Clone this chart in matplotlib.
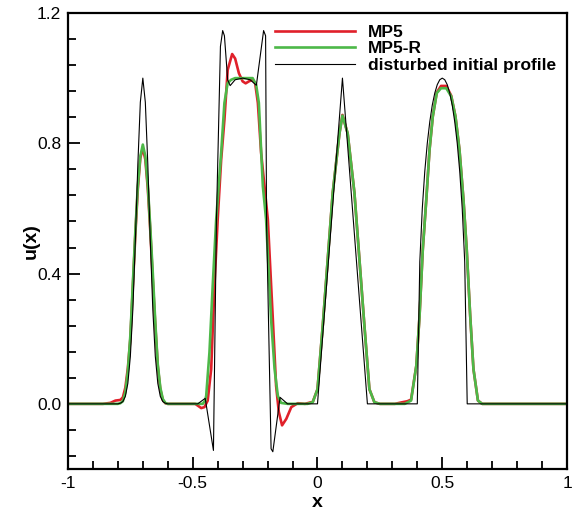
import matplotlib
matplotlib.use("Agg")
import matplotlib.pyplot as plt
from matplotlib.ticker import MultipleLocator

plt.rcParams['font.family'] = ['Liberation Sans', 'DejaVu Sans']
plt.rcParams['axes.unicode_minus'] = False

# disturbed initial profile
black_x = [-1.0, -0.80, -0.79, -0.78, -0.77, -0.76, -0.75, -0.74, -0.73, -0.72, -0.71, -0.70,
           -0.69, -0.68, -0.67, -0.66, -0.65, -0.64, -0.63, -0.62, -0.61, -0.60,
           -0.48, -0.45, -0.417, -0.405, -0.389, -0.38, -0.373, -0.36, -0.35, -0.33, -0.30,
           -0.27, -0.245, -0.216, -0.208, -0.204, -0.186, -0.179, -0.15, -0.12,
           0.0, 0.1, 0.2,
           0.40, 0.41, 0.42, 0.43, 0.44, 0.45, 0.46, 0.47, 0.48, 0.49, 0.50,
           0.51, 0.52, 0.53, 0.54, 0.55, 0.56, 0.57, 0.58, 0.59, 0.60, 1.0]
black_y = [0.0, 0.0, 0.002, 0.007, 0.023, 0.063, 0.146, 0.29, 0.50, 0.735, 0.926, 1.0,
           0.926, 0.735, 0.50, 0.29, 0.146, 0.063, 0.023, 0.007, 0.002, 0.0,
           0.0, 0.017, -0.143, 0.566, 1.097, 1.146, 1.13, 0.995, 0.977, 0.995, 1.0,
           0.995, 0.978, 1.146, 1.13, 0.55, -0.138, -0.147, 0.02, 0.0,
           0.0, 1.0, 0.0,
           0.0, 0.436, 0.60, 0.714, 0.80, 0.866, 0.917, 0.954, 0.98, 0.995, 1.0,
           0.995, 0.98, 0.954, 0.917, 0.866, 0.80, 0.714, 0.60, 0.436, 0.0, 0.0]

# MP5
mp5_x = [-1.0, -0.86, -0.83, -0.81, -0.79, -0.78, -0.77, -0.76, -0.75, -0.74, -0.73, -0.72,
         -0.71, -0.70, -0.69, -0.68, -0.67, -0.66, -0.65, -0.64, -0.63, -0.62, -0.61, -0.60,
         -0.49, -0.475, -0.466, -0.453, -0.44, -0.426, -0.413, -0.40, -0.386, -0.373, -0.36,
         -0.342, -0.33, -0.315, -0.30, -0.288, -0.275, -0.26, -0.25, -0.239, -0.226, -0.199,
         -0.179, -0.166, -0.155, -0.142, -0.125, -0.105, -0.079, -0.05,
         -0.03, -0.019, 0.0, 0.021, 0.061, 0.088, 0.10, 0.121, 0.148, 0.188, 0.208, 0.228, 0.25,
         0.31, 0.34, 0.36, 0.375, 0.396, 0.409, 0.422, 0.436, 0.449, 0.462, 0.478, 0.495,
         0.516, 0.536, 0.553, 0.569, 0.585, 0.598, 0.612, 0.625, 0.643, 0.66, 1.0]
mp5_y = [0.0, 0.0, 0.003, 0.01, 0.012, 0.02, 0.05, 0.11, 0.2, 0.36, 0.52, 0.66,
         0.755, 0.785, 0.75, 0.66, 0.53, 0.38, 0.24, 0.115, 0.045, 0.012, 0.002, 0.0,
         0.0, -0.008, -0.013, -0.01, 0.01, 0.107, 0.362, 0.566, 0.75, 0.872, 1.025,
         1.074, 1.06, 1.015, 0.99, 0.984, 0.99, 0.995, 0.985, 0.924, 0.771, 0.566,
         0.26, 0.056, -0.025, -0.066, -0.046, -0.01, 0.002, 0.0,
         0.004, 0.006, 0.045, 0.24, 0.648, 0.83, 0.887, 0.83, 0.648, 0.24, 0.045, 0.005, 0.0,
         0.0, 0.005, 0.008, 0.013, 0.117, 0.27, 0.474, 0.627, 0.78, 0.882, 0.956, 0.976,
         0.976, 0.946, 0.882, 0.78, 0.627, 0.474, 0.27, 0.107, 0.01, 0.0, 0.0]

# MP5-R
mp5r_x = [-1.0, -0.80, -0.79, -0.78, -0.77, -0.76, -0.75, -0.74, -0.73, -0.72, -0.71, -0.70,
          -0.69, -0.68, -0.67, -0.66, -0.65, -0.64, -0.63, -0.62, -0.61, -0.60,
          -0.46, -0.45, -0.446, -0.433, -0.42, -0.406, -0.386, -0.373, -0.36, -0.346, -0.33,
          -0.26, -0.246, -0.235, -0.219, -0.206, -0.186, -0.172, -0.159, -0.146, -0.12,
          -0.04, -0.019, 0.0, 0.021, 0.061, 0.088, 0.10, 0.121, 0.148, 0.188, 0.208, 0.228, 0.25,
          0.35, 0.375, 0.396, 0.409, 0.422, 0.436, 0.449, 0.462, 0.478, 0.495,
          0.516, 0.536, 0.553, 0.569, 0.585, 0.598, 0.612, 0.625, 0.643, 0.66, 1.0]
mp5r_y = [0.0, 0.0, 0.002, 0.008, 0.035, 0.10, 0.21, 0.37, 0.53, 0.67, 0.76, 0.796,
          0.76, 0.67, 0.54, 0.40, 0.25, 0.12, 0.05, 0.015, 0.003, 0.0,
          0.0, 0.01, 0.025, 0.158, 0.362, 0.566, 0.771, 0.924, 0.985, 0.995, 1.0,
          1.0, 0.98, 0.924, 0.668, 0.566, 0.26, 0.107, 0.025, 0.003, 0.0,
          0.0, 0.005, 0.045, 0.24, 0.648, 0.83, 0.885, 0.83, 0.648, 0.24, 0.045, 0.005, 0.0,
          0.0, 0.01, 0.117, 0.27, 0.474, 0.627, 0.78, 0.882, 0.954, 0.969,
          0.969, 0.944, 0.882, 0.78, 0.627, 0.474, 0.27, 0.107, 0.01, 0.0, 0.0]

fig = plt.figure(figsize=(5.78, 5.11), dpi=100)
ax = fig.add_axes([0.1176, 0.0822, 0.8634, 0.8924])

ax.plot(mp5_x, mp5_y, color='#e0202a', lw=1.9, label='MP5')
ax.plot(mp5r_x, mp5r_y, color='#4db848', lw=1.9, label='MP5-R')
ax.plot(black_x, black_y, color='black', lw=0.8, label='disturbed initial profile')

ax.set_xlim(-1, 1)
ax.set_ylim(-0.2, 1.2)
ax.xaxis.set_minor_locator(MultipleLocator(0.1))
ax.yaxis.set_minor_locator(MultipleLocator(0.08))
ax.set_xticks([-1, -0.5, 0, 0.5, 1])
ax.set_xticklabels(['-1', '-0.5', '0', '0.5', '1'])
ax.set_yticks([0.0, 0.4, 0.8, 1.2])
ax.set_yticklabels(['0.0', '0.4', '0.8', '1.2'])

ax.tick_params(which='both', direction='in', top=False, right=False, width=1.3,
               labelsize=12.5)
ax.tick_params(which='major', length=8.5, pad=5)
ax.tick_params(which='minor', length=5.5)
for s in ax.spines.values():
    s.set_linewidth(1.6)

ax.set_xlabel('x', fontsize=14, fontweight='bold', labelpad=2)
ax.set_ylabel('u(x)', fontsize=14, fontweight='bold', labelpad=-2)

leg = ax.legend(loc='upper right', frameon=False, prop={'size': 12.5, 'weight': 'bold'},
                handlelength=4.6, handletextpad=0.75, labelspacing=0.08,
                borderaxespad=0.0, bbox_to_anchor=(0.992, 0.99))

fig.savefig('out.png', dpi=100)
